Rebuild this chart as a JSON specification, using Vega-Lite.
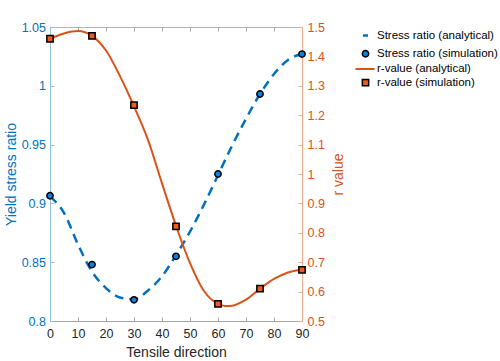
{
  "$schema": "https://vega.github.io/schema/vega-lite/v6.json",
  "width": 252,
  "height": 294,
  "autosize": {"type": "none"},
  "padding": {"left": 50, "top": 27, "right": 198, "bottom": 40},
  "background": "white",
  "config": {
    "font": "Liberation Sans",
    "view": {"stroke": "#b3b3b3", "strokeWidth": 1},
    "axis": {"grid": false, "labelFlush": false, "labelFont": "Liberation Sans", "titleFont": "Liberation Sans", "titleFontWeight": "normal", "labelFontSize": 12.5, "titleFontSize": 14},
    "legend": {"title": null, "orient": "none", "padding": 0, "labelFontSize": 11.5, "labelColor": "black", "labelFont": "Liberation Sans"}
  },
  "datasets": {
    "main": [
      {"angle": 0, "value": 0.906, "series": "Stress ratio (analytical)"},
      {"angle": 5, "value": 0.892, "series": "Stress ratio (analytical)"},
      {"angle": 10, "value": 0.865, "series": "Stress ratio (analytical)"},
      {"angle": 15, "value": 0.842, "series": "Stress ratio (analytical)"},
      {"angle": 20, "value": 0.828, "series": "Stress ratio (analytical)"},
      {"angle": 25, "value": 0.82, "series": "Stress ratio (analytical)"},
      {"angle": 30, "value": 0.8185, "series": "Stress ratio (analytical)"},
      {"angle": 35, "value": 0.826, "series": "Stress ratio (analytical)"},
      {"angle": 40, "value": 0.838, "series": "Stress ratio (analytical)"},
      {"angle": 45, "value": 0.856, "series": "Stress ratio (analytical)"},
      {"angle": 50, "value": 0.876, "series": "Stress ratio (analytical)"},
      {"angle": 55, "value": 0.899, "series": "Stress ratio (analytical)"},
      {"angle": 60, "value": 0.924, "series": "Stress ratio (analytical)"},
      {"angle": 65, "value": 0.949, "series": "Stress ratio (analytical)"},
      {"angle": 70, "value": 0.972, "series": "Stress ratio (analytical)"},
      {"angle": 75, "value": 0.993, "series": "Stress ratio (analytical)"},
      {"angle": 80, "value": 1.01, "series": "Stress ratio (analytical)"},
      {"angle": 85, "value": 1.022, "series": "Stress ratio (analytical)"},
      {"angle": 90, "value": 1.027, "series": "Stress ratio (analytical)"},
      {"angle": 0, "value": 0.9065, "series": "Stress ratio (simulation)"},
      {"angle": 15, "value": 0.848, "series": "Stress ratio (simulation)"},
      {"angle": 30, "value": 0.818, "series": "Stress ratio (simulation)"},
      {"angle": 45, "value": 0.855, "series": "Stress ratio (simulation)"},
      {"angle": 60, "value": 0.925, "series": "Stress ratio (simulation)"},
      {"angle": 75, "value": 0.993, "series": "Stress ratio (simulation)"},
      {"angle": 90, "value": 1.027, "series": "Stress ratio (simulation)"},
      {"angle": 0, "value": 1.46, "series": "r-value (analytical)"},
      {"angle": 5, "value": 1.478, "series": "r-value (analytical)"},
      {"angle": 10, "value": 1.486, "series": "r-value (analytical)"},
      {"angle": 15, "value": 1.47, "series": "r-value (analytical)"},
      {"angle": 20, "value": 1.42, "series": "r-value (analytical)"},
      {"angle": 25, "value": 1.333, "series": "r-value (analytical)"},
      {"angle": 30, "value": 1.23, "series": "r-value (analytical)"},
      {"angle": 35, "value": 1.116, "series": "r-value (analytical)"},
      {"angle": 40, "value": 0.968, "series": "r-value (analytical)"},
      {"angle": 45, "value": 0.824, "series": "r-value (analytical)"},
      {"angle": 50, "value": 0.697, "series": "r-value (analytical)"},
      {"angle": 55, "value": 0.602, "series": "r-value (analytical)"},
      {"angle": 60, "value": 0.558, "series": "r-value (analytical)"},
      {"angle": 62.5, "value": 0.551, "series": "r-value (analytical)"},
      {"angle": 65, "value": 0.552, "series": "r-value (analytical)"},
      {"angle": 70, "value": 0.573, "series": "r-value (analytical)"},
      {"angle": 75, "value": 0.61, "series": "r-value (analytical)"},
      {"angle": 80, "value": 0.643, "series": "r-value (analytical)"},
      {"angle": 85, "value": 0.665, "series": "r-value (analytical)"},
      {"angle": 90, "value": 0.675, "series": "r-value (analytical)"},
      {"angle": 0, "value": 1.46, "series": "r-value (simulation)"},
      {"angle": 15, "value": 1.47, "series": "r-value (simulation)"},
      {"angle": 30, "value": 1.234, "series": "r-value (simulation)"},
      {"angle": 45, "value": 0.822, "series": "r-value (simulation)"},
      {"angle": 60, "value": 0.558, "series": "r-value (simulation)"},
      {"angle": 75, "value": 0.61, "series": "r-value (simulation)"},
      {"angle": 90, "value": 0.674, "series": "r-value (simulation)"}
    ]
  },
  "data": {"name": "main"},
  "encoding": {
    "x": {
      "field": "angle",
      "type": "quantitative",
      "scale": {"domain": [0, 90], "nice": false, "zero": false},
      "axis": {
        "title": "Tensile direction",
        "values": [0, 10, 20, 30, 40, 50, 60, 70, 80, 90],
        "labelColor": "#262626",
        "titleColor": "#262626",
        "domainColor": "#a6a6a6",
        "tickColor": "#a6a6a6",
        "tickSize": -4,
        "labelPadding": 10,
        "titleX": 126,
        "titleY": 31,
        "titleBaseline": "middle"
      }
    }
  },
  "layer": [
    {
      "encoding": {
        "y": {
          "field": "value",
          "type": "quantitative",
          "scale": {"domain": [0.8, 1.05], "nice": false, "zero": false},
          "axis": {
            "title": "Yield stress ratio",
            "orient": "left",
            "values": [0.8, 0.85, 0.9, 0.95, 1, 1.05],
            "format": "~g",
            "labelColor": "#0072BD",
            "titleColor": "#0072BD",
            "domainColor": "#8fbfe6",
            "tickColor": "#8fbfe6",
            "tickSize": -4,
            "labelPadding": 8.5,
            "titleX": -39,
            "titleY": 147,
            "titleAngle": 270,
            "titleBaseline": "middle"
          }
        }
      },
      "layer": [
        {
          "transform": [{"filter": "datum.series === 'Stress ratio (analytical)'"}],
          "mark": {"type": "line", "interpolate": "monotone", "strokeWidth": 2.5, "strokeDash": [9, 6], "opacity": 1},
          "encoding": {
            "color": {
              "field": "series",
              "type": "nominal",
              "scale": {"domain": ["Stress ratio (analytical)"], "range": ["#0072BD"]},
              "legend": {
                "legendX": 309.75,
                "legendY": 2.75,
                "symbolType": "stroke",
                "symbolSize": 25,
                "symbolStrokeWidth": 2.5,
                "symbolDash": [1, 0],
                "labelOffset": 5.75
              }
            }
          }
        },
        {
          "transform": [{"filter": "datum.series === 'Stress ratio (simulation)'"}],
          "mark": {"type": "point", "shape": "circle", "filled": true, "size": 40, "stroke": "black", "strokeWidth": 1.5, "opacity": 1},
          "encoding": {
            "color": {
              "field": "series",
              "type": "nominal",
              "scale": {"domain": ["Stress ratio (simulation)"], "range": ["#0A84E0"]},
              "legend": {
                "legendX": 309.75,
                "legendY": 21,
                "symbolType": "circle",
                "symbolSize": 40,
                "symbolStrokeWidth": 1.5,
                "symbolStrokeColor": "black",
                "symbolOpacity": 1,
                "labelOffset": 5.75
              }
            }
          }
        }
      ],
      "resolve": {"scale": {"color": "independent"}}
    },
    {
      "encoding": {
        "x": {
          "field": "angle",
          "type": "quantitative",
          "axis": {
            "orient": "top",
            "title": null,
            "labels": false,
            "domain": false,
            "values": [0, 10, 20, 30, 40, 50, 60, 70, 80, 90],
            "tickColor": "#a6a6a6",
            "tickSize": -4
          }
        },
        "y": {
          "field": "value",
          "type": "quantitative",
          "scale": {"domain": [0.5, 1.5], "nice": false, "zero": false},
          "axis": {
            "title": "r value",
            "orient": "right",
            "values": [0.5, 0.6, 0.7, 0.8, 0.9, 1, 1.1, 1.2, 1.3, 1.4, 1.5],
            "format": "~g",
            "labelColor": "#D95319",
            "titleColor": "#D95319",
            "domainColor": "#f2ad90",
            "tickColor": "#f2ad90",
            "tickSize": -4,
            "labelPadding": 9,
            "titleX": 36,
            "titleY": 147,
            "titleAngle": 270,
            "titleBaseline": "middle"
          }
        }
      },
      "layer": [
        {
          "transform": [{"filter": "datum.series === 'r-value (analytical)'"}],
          "mark": {"type": "line", "interpolate": "monotone", "strokeWidth": 2, "opacity": 1},
          "encoding": {
            "color": {
              "field": "series",
              "type": "nominal",
              "scale": {"domain": ["r-value (analytical)"], "range": ["#D95319"]},
              "legend": {
                "legendX": 304.5,
                "legendY": 31.5,
                "symbolType": "stroke",
                "symbolSize": 361,
                "symbolStrokeWidth": 2,
                "labelOffset": 1.5
              }
            }
          }
        },
        {
          "transform": [{"filter": "datum.series === 'r-value (simulation)'"}],
          "mark": {"type": "point", "shape": "square", "filled": true, "size": 40, "stroke": "black", "strokeWidth": 1.5, "opacity": 1},
          "encoding": {
            "color": {
              "field": "series",
              "type": "nominal",
              "scale": {"domain": ["r-value (simulation)"], "range": ["#F05A1E"]},
              "legend": {
                "legendX": 309.75,
                "legendY": 49.8,
                "symbolType": "square",
                "symbolSize": 40,
                "symbolStrokeWidth": 1.5,
                "symbolStrokeColor": "black",
                "symbolOpacity": 1,
                "labelOffset": 5.75
              }
            }
          }
        }
      ],
      "resolve": {"scale": {"color": "independent"}}
    }
  ],
  "resolve": {"scale": {"y": "independent", "color": "independent"}, "axis": {"x": "independent"}}
}
